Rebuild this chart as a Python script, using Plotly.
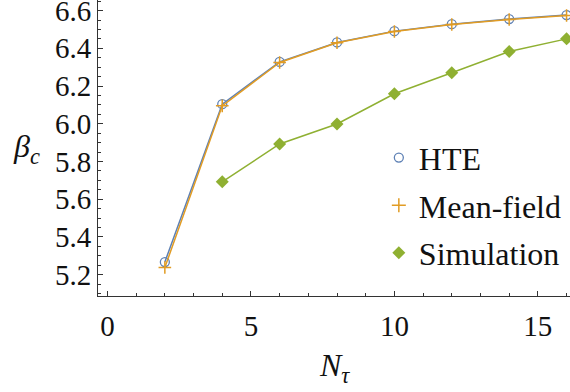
import plotly.graph_objects as go

# Data
n_tau = [2, 4, 6, 8, 10, 12, 14, 16]
hte = [5.267, 6.104, 6.328, 6.431, 6.491, 6.528, 6.555, 6.576]
mean_field = [5.238, 6.095, 6.325, 6.429, 6.489, 6.526, 6.553, 6.574]
n_tau_sim = [4, 6, 8, 10, 12, 14, 16]
simulation = [5.692, 5.893, 5.999, 6.159, 6.270, 6.383, 6.450]

names = ["HTE", "Mean-field", "Simulation"]
x_tickvals = [0, 5, 10, 15]
y_tickvals = [5.2, 5.4, 5.6, 5.8, 6.0, 6.2, 6.4, 6.6]

blue = "#5E81B5"
orange = "#E19C24"
green = "#8FB032"
FONT = "Liberation Serif"
AX = "#333333"

fig = go.Figure()

fig.add_trace(go.Scatter(x=n_tau, y=hte, mode="lines+markers", showlegend=False, cliponaxis=False,
                         line=dict(color=blue, width=1.5),
                         marker=dict(symbol="circle-open", size=9, color=blue, line=dict(width=1.3))))
fig.add_trace(go.Scatter(x=n_tau, y=mean_field, mode="lines+markers", showlegend=False, cliponaxis=False,
                         line=dict(color=orange, width=1.5),
                         marker=dict(symbol="cross-thin-open", size=9, color=orange, line=dict(width=1.5, color=orange))))
fig.add_trace(go.Scatter(x=n_tau_sim, y=simulation, mode="lines+markers", showlegend=False, cliponaxis=False,
                         line=dict(color=green, width=1.5),
                         marker=dict(symbol="diamond", size=10, color=green)))

legend_markers = [
    dict(symbol="circle-open", size=9, color=blue, line=dict(width=1.3)),
    dict(symbol="cross-thin-open", size=10, color=orange, line=dict(width=1.5, color=orange)),
    dict(symbol="diamond", size=10, color=green),
]
for nm, mk in zip(names, legend_markers):
    fig.add_trace(go.Scatter(x=[None], y=[None], mode="markers", name=nm,
                             marker=mk, legendgroup=nm))

fig.update_xaxes(range=[-0.33, 16.12], tickmode="array", tickvals=x_tickvals,
                 showline=True, linecolor=AX, linewidth=1, automargin=False,
                 ticks="inside", tickcolor=AX, ticklen=5, tickwidth=1,
                 showgrid=False, zeroline=False,
                 tickfont=dict(family=FONT, size=29, color="#111111"),
                 ticklabelstandoff=4, ticklabeloverflow="allow",
                 minor=dict(ticks="inside", dtick=1, tick0=0, ticklen=3, tickcolor=AX))
fig.update_yaxes(range=[5.087, 6.656], tickmode="array", tickvals=y_tickvals, tickformat=".1f",
                 showline=True, linecolor=AX, linewidth=1, automargin=False,
                 ticks="inside", tickcolor=AX, ticklen=5, tickwidth=1,
                 showgrid=False, zeroline=False, ticklabeloverflow="allow",
                 tickfont=dict(family=FONT, size=29, color="#111111"),
                 minor=dict(ticks="inside", dtick=0.05, tick0=5.0, ticklen=3, tickcolor=AX))

fig.update_layout(
    width=570, height=392,
    margin=dict(l=98, r=0, t=0, b=96, autoexpand=False),
    paper_bgcolor="white", plot_bgcolor="white",
    font=dict(family=FONT, color="#111111"),
    legend=dict(x=0.595, y=0.56, xanchor="left", yanchor="top",
                font=dict(family=FONT, size=32, color="#111111"),
                bgcolor="rgba(0,0,0,0)", itemwidth=30, tracegroupgap=3),
    annotations=[
        dict(text="<i>β</i><sub><i>c</i></sub>", xref="paper", yref="paper",
             x=-0.152, y=0.50, xanchor="center", yanchor="middle", showarrow=False,
             font=dict(family=FONT, size=32, color="#111111")),
        dict(text="<i>N</i><sub><i>τ</i></sub>", xref="paper", yref="paper",
             x=0.502, y=-0.243, xanchor="center", yanchor="middle", showarrow=False,
             font=dict(family=FONT, size=32, color="#111111")),
    ],
)

fig.write_html("out.html", post_script="document.body.style.margin='0';",
               config={"displayModeBar": False})
